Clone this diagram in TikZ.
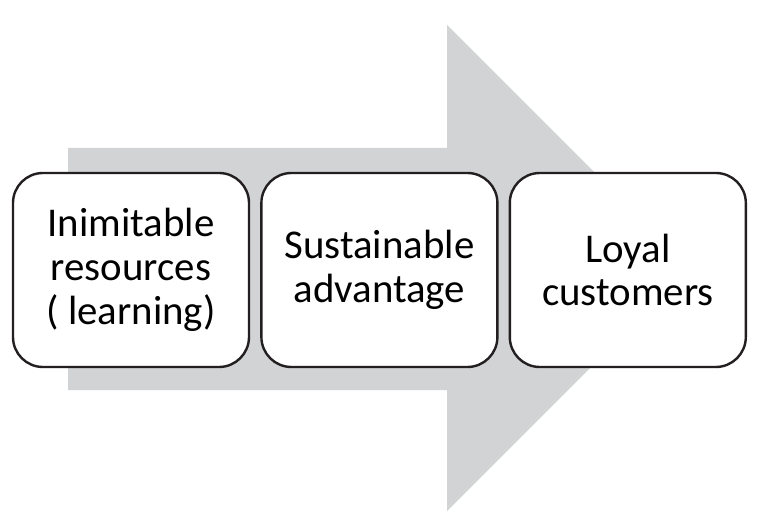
\documentclass[tikz,border=0pt]{standalone}
\usepackage{fontspec}
\setmainfont{Carlito}
\usepackage{xcolor}
\usepackage{tikz}
\usetikzlibrary{positioning}
\definecolor{arrowgray}{RGB}{209,211,212}
\definecolor{boxline}{RGB}{35,31,32}

\begin{document}
\begin{tikzpicture}[x=1bp,y=-1bp,
    stagebox/.style={draw=boxline,fill=white,line width=2.4bp,rounded corners=30bp,
      minimum width=236bp,minimum height=194bp,align=center,inner sep=0pt,
      font=\fontsize{41}{44}\selectfont}]
  \useasboundingbox (0,0) rectangle (768,528);
  % Background arrow
  \fill[arrowgray] (68,148) -- (447,148) -- (447,25) -- (690,268)
                   -- (447,511) -- (447,390) -- (68,390) -- cycle;
  % Stages
  \node[stagebox] (inim) at (131,270) {Inimitable\\resources\\( learning)};
  \node[stagebox,right=10bp of inim] (sust) {Sustainable\\advantage};
  \node[stagebox,right=10bp of sust] (loyal) {Loyal\\customers};
\end{tikzpicture}
\end{document}
